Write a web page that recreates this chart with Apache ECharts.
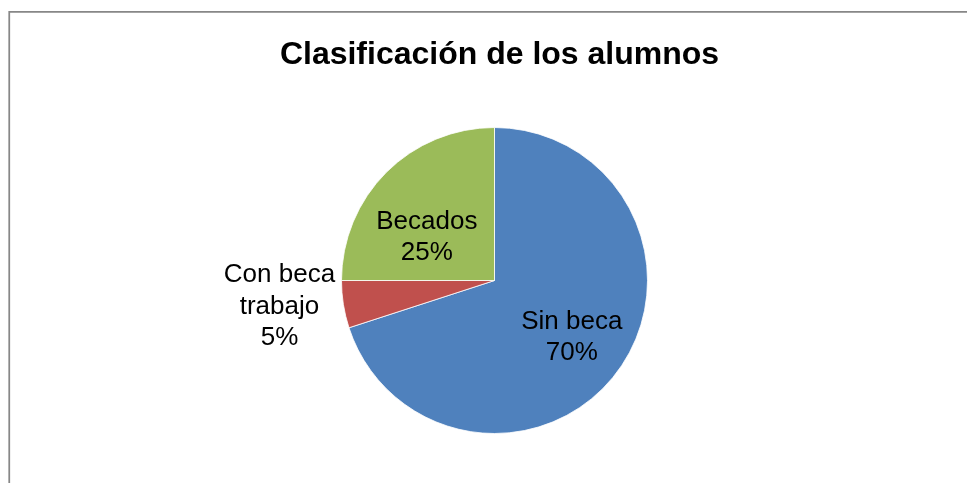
<!DOCTYPE html>
<html>
<head>
<meta charset="utf-8">
<script src="https://cdn.jsdelivr.net/npm/echarts@6/dist/echarts.min.js"></script>
<style>
html,body{margin:0;padding:0;background:#fff;}
#chart{width:967px;height:483px;}
</style>
</head>
<body>
<div id="chart"></div>
<script>
var titleText = 'Clasificación de los alumnos';
var categories = ['Sin beca', 'Con beca\ntrabajo', 'Becados'];
var values = [70, 5, 25];
var colors = ['#4F81BD', '#C0504D', '#9BBB59'];
var labelOffsets = [[13, 10], [-136.5, 13.5], [-11.5, 13]];

var chart = echarts.init(document.getElementById('chart'), null, {renderer: 'canvas'});
var data = categories.map(function (c, i) {
  return {
    name: c,
    value: values[i],
    itemStyle: {color: colors[i]},
    label: {offset: labelOffsets[i]}
  };
});
chart.setOption({
  animation: false,
  backgroundColor: '#ffffff',
  title: {
    text: titleText,
    left: 494.5,
    top: 34,
    textAlign: 'center',
    textStyle: {
      fontFamily: 'Liberation Sans, Arial, sans-serif',
      fontSize: 32,
      fontWeight: 'bold',
      color: '#000000'
    }
  },
  graphic: [{
    type: 'rect',
    shape: {x: 9.25, y: 11.75, width: 1000, height: 1000},
    style: {fill: 'none', stroke: '#878787', lineWidth: 1.75},
    silent: true
  }],
  series: [{
    type: 'pie',
    center: [494.5, 280.5],
    radius: 153,
    startAngle: 90,
    clockwise: true,
    avoidLabelOverlap: false,
    itemStyle: {borderColor: '#ffffff', borderWidth: 0.8},
    label: {
      show: true,
      position: 'inside',
      formatter: function (p) { return p.name + '\n' + Math.round(p.percent) + '%'; },
      fontFamily: 'Liberation Sans, Arial, sans-serif',
      fontSize: 26,
      lineHeight: 31.5,
      color: '#000000',
      align: 'center'
    },
    labelLine: {show: false},
    emphasis: {disabled: true},
    data: data
  }]
});
</script>
</body>
</html>
